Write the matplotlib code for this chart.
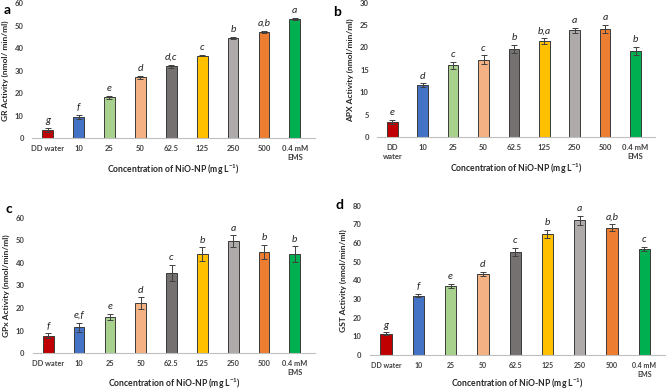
import matplotlib
matplotlib.use("Agg")
import matplotlib.pyplot as plt
import numpy as np

plt.rcParams['font.family'] = ['Lato', 'DejaVu Sans']
plt.rcParams['mathtext.fontset'] = 'custom'
plt.rcParams['mathtext.rm'] = 'Lato:bold'
plt.rcParams['mathtext.it'] = 'Lato:italic'
plt.rcParams['mathtext.bf'] = 'Lato:bold'

categories_ad = ["DD water", "10", "25", "50", "62.5", "125", "250", "500", "0.4 mM\nEMS"]
categories_b = ["DD\nwater", "10", "25", "50", "62.5", "125", "250", "500", "0.4 mM\nEMS"]
colors = ["#C00000", "#4472C4", "#A9D18E", "#F4B183", "#767171",
          "#FFC000", "#AEAAAA", "#ED7D31", "#00B050"]

gr_vals = [3.7, 9.4, 18.1, 27.0, 31.9, 36.7, 44.5, 47.3, 53.0]
gr_err = [0.8, 0.8, 0.7, 0.7, 0.8, 0.4, 0.6, 0.5, 0.4]
gr_let = ["g", "f", "e", "d", "d,c", "c", "b", "a,b", "a"]

apx_vals = [3.3, 11.6, 16.0, 17.3, 19.7, 21.4, 23.8, 24.1, 19.2]
apx_err = [0.5, 0.4, 0.8, 0.9, 0.9, 0.7, 0.6, 0.9, 1.0]
apx_let = ["e", "d", "c", "c", "b", "b,a", "a", "a", "b"]

gpx_vals = [7.8, 11.6, 16.1, 22.3, 35.5, 43.8, 49.6, 44.9, 43.8]
gpx_err = [1.0, 2.0, 1.5, 2.5, 3.5, 3.0, 2.5, 3.0, 3.5]
gpx_let = ["f", "e,f", "e", "d", "c", "b", "a", "b", "b"]

gst_vals = [11.4, 31.6, 37.0, 43.2, 55.1, 64.7, 72.0, 68.1, 56.5]
gst_err = [0.6, 0.8, 1.0, 1.0, 2.2, 2.0, 2.2, 1.8, 1.1]
gst_let = ["g", "f", "e", "d", "c", "b", "a", "a,b", "c"]

fig = plt.figure(figsize=(6.7, 3.9), dpi=100)

panels = [
    ("a", [0.048, 0.646, 0.422, 0.346], gr_vals, gr_err, gr_let, categories_ad,
     "GR Activity (nmol/ min/ml)", 60, 10, (0.005, 0.99), 1.5, 5.5),
    ("b", [0.563, 0.649, 0.415, 0.344], apx_vals, apx_err, apx_let, categories_b,
     "APX Activity (nmol/min/ml)", 30, 5, (0.497, 0.985), 1.5, 5.5),
    ("c", [0.049, 0.094, 0.421, 0.348], gpx_vals, gpx_err, gpx_let, categories_ad,
     "GPx Activity (nmol/min/ml)", 60, 10, (0.008, 0.48), 0.5, 5.3),
    ("d", [0.552, 0.090, 0.441, 0.383], gst_vals, gst_err, gst_let, categories_ad,
     "GST Activity (nmol/min/ml)", 80, 10, (0.500, 0.49), -0.5, 5.0),
]

for (lab, pos, vals, errs, lets, cats, ylabel, ymax, ystep, labpos, xlpad, tfs) in panels:
    ax = fig.add_axes(pos)
    x = np.arange(len(vals))
    ax.bar(x, vals, width=0.35, color=colors, edgecolor="#3a3a3a", linewidth=0.7,
           yerr=errs, error_kw=dict(ecolor="#404040", elinewidth=0.7, capsize=2, capthick=0.7),
           zorder=2)
    for xi, v, e, t in zip(x, vals, errs, lets):
        ax.text(xi, v + e + ymax * 0.02, t, ha="center", va="bottom",
                fontsize=7.5, style="italic", color="#262626")
    ax.set_xlim(-0.5, len(vals) - 0.35)
    ax.set_ylim(0, ymax)
    ax.set_yticks(np.arange(0, ymax + 0.1, ystep))
    ax.set_xticks(x)
    ax.set_xticklabels(cats, fontsize=tfs, fontweight="bold", color="#404040",
                       linespacing=1.3)
    ax.tick_params(axis="y", labelsize=5.5, colors="#404040", length=0, pad=6)
    ax.tick_params(axis="x", length=0, pad=5)
    for lbl in ax.get_yticklabels():
        lbl.set_fontweight("bold")
    for s in ["top", "right", "left"]:
        ax.spines[s].set_visible(False)
    ax.spines["bottom"].set_color("#BFBFBF")
    ax.spines["bottom"].set_linewidth(0.8)
    ax.set_ylabel(ylabel, fontsize=6.0, fontweight="bold", color="#262626", labelpad=4)
    ax.set_xlabel(r"Concentration of NiO-NP (mg L$^{-1}$)", fontsize=6.2,
                  fontweight="bold", color="#262626", labelpad=xlpad)
    fig.text(labpos[0], labpos[1], lab, fontsize=10, fontweight="bold",
             ha="left", va="top", color="black")

fig.savefig("out.png", dpi=100)
